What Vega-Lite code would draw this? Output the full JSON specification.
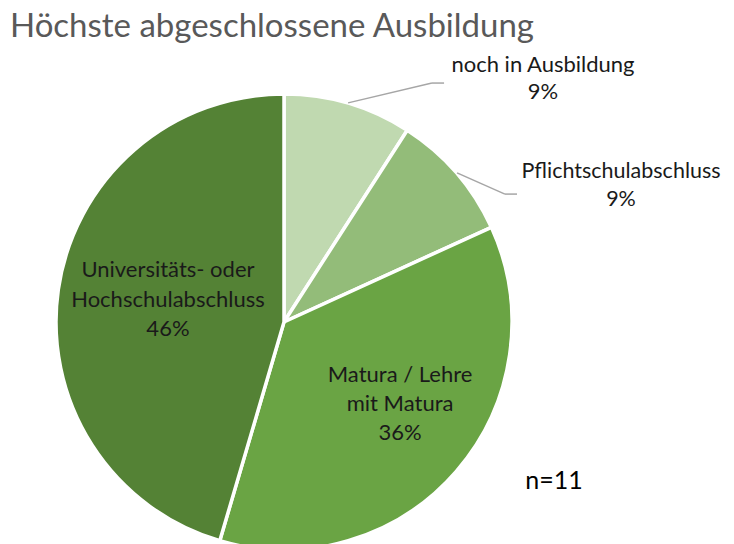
{
  "$schema": "https://vega.github.io/schema/vega-lite/v6.json",
  "autosize": {"type": "none"},
  "padding": {"left": 56, "top": 100, "right": 222, "bottom": 0},
  "width": 456,
  "height": 444,
  "background": "white",
  "config": {"view": {"stroke": null}, "text": {"font": "Lato"}},
  "data": {
    "values": [
      {"cat": "noch in Ausbildung", "n": 1, "label": "noch in Ausbildung\n9%"},
      {"cat": "Pflichtschulabschluss", "n": 1, "label": "Pflichtschulabschluss\n9%"},
      {"cat": "Matura / Lehre mit Matura", "n": 4, "label": "Matura / Lehre\nmit Matura\n36%"},
      {"cat": "Universitäts- oder Hochschulabschluss", "n": 5, "label": "Universitäts- oder\nHochschulabschluss\n46%"}
    ]
  },
  "layer": [
    {
      "mark": {"type": "arc", "outerRadius": 228, "stroke": "white", "strokeWidth": 3.5},
      "encoding": {
        "theta": {"field": "n", "type": "quantitative", "stack": true},
        "order": {"field": "n", "sort": "ascending"},
        "color": {
          "field": "cat",
          "type": "nominal",
          "scale": {
            "domain": ["noch in Ausbildung", "Pflichtschulabschluss", "Matura / Lehre mit Matura", "Universitäts- oder Hochschulabschluss"],
            "range": ["#C0D9B0", "#93BC79", "#6AA444", "#548235"]
          },
          "legend": null
        }
      }
    },
    {
      "data": {"values": [{}]},
      "mark": {"type": "rule", "color": "#A6A6A6", "strokeWidth": 1.5},
      "encoding": {
        "x": {"datum": 0.281, "type": "quantitative", "scale": {"domain": [-1, 1], "nice": false, "zero": false}, "axis": null},
        "y": {"datum": 0.961, "type": "quantitative", "scale": {"domain": [-0.97368, 0.97368], "nice": false, "zero": false}, "axis": null},
        "x2": {"datum": 0.649},
        "y2": {"datum": 1.048}
      }
    },
    {
      "data": {"values": [{}]},
      "mark": {"type": "rule", "color": "#A6A6A6", "strokeWidth": 1.5},
      "encoding": {
        "x": {"datum": 0.649, "type": "quantitative"},
        "y": {"datum": 1.048, "type": "quantitative"},
        "x2": {"datum": 0.702},
        "y2": {"datum": 1.048}
      }
    },
    {
      "data": {"values": [{}]},
      "mark": {"type": "rule", "color": "#A6A6A6", "strokeWidth": 1.5},
      "encoding": {
        "x": {"datum": 0.759, "type": "quantitative"},
        "y": {"datum": 0.654, "type": "quantitative"},
        "x2": {"datum": 0.969},
        "y2": {"datum": 0.561}
      }
    },
    {
      "data": {"values": [{}]},
      "mark": {"type": "rule", "color": "#A6A6A6", "strokeWidth": 1.5},
      "encoding": {
        "x": {"datum": 0.969, "type": "quantitative"},
        "y": {"datum": 0.561, "type": "quantitative"},
        "x2": {"datum": 1.022},
        "y2": {"datum": 0.561}
      }
    },
    {
      "data": {"values": [{"title": "Höchste abgeschlossene Ausbildung"}]},
      "mark": {"type": "text", "align": "left", "baseline": "alphabetic", "fontSize": 33, "fontWeight": "normal", "color": "#595959"},
      "encoding": {
        "x": {"datum": -1.202, "type": "quantitative"},
        "y": {"datum": 1.25, "type": "quantitative"},
        "text": {"field": "title"}
      }
    },
    {
      "transform": [{"filter": "datum.cat === 'noch in Ausbildung'"}],
      "mark": {"type": "text", "align": "center", "baseline": "alphabetic", "fontSize": 22, "lineHeight": 27, "lineBreak": "\n", "color": "#1A1A1A"},
      "encoding": {
        "x": {"datum": 1.136, "type": "quantitative"},
        "y": {"datum": 1.096, "type": "quantitative"},
        "text": {"field": "label"}
      }
    },
    {
      "transform": [{"filter": "datum.cat === 'Pflichtschulabschluss'"}],
      "mark": {"type": "text", "align": "center", "baseline": "alphabetic", "fontSize": 21.5, "lineHeight": 28, "lineBreak": "\n", "color": "#1A1A1A"},
      "encoding": {
        "x": {"datum": 1.478, "type": "quantitative"},
        "y": {"datum": 0.632, "type": "quantitative"},
        "text": {"field": "label"}
      }
    },
    {
      "transform": [{"filter": "datum.cat === 'Universitäts- oder Hochschulabschluss'"}],
      "mark": {"type": "text", "align": "center", "baseline": "alphabetic", "fontSize": 22, "lineHeight": 29.5, "lineBreak": "\n", "color": "#1A1A1A"},
      "encoding": {
        "x": {"datum": -0.509, "type": "quantitative"},
        "y": {"datum": 0.197, "type": "quantitative"},
        "text": {"field": "label"}
      }
    },
    {
      "transform": [{"filter": "datum.cat === 'Matura / Lehre mit Matura'"}],
      "mark": {"type": "text", "align": "center", "baseline": "alphabetic", "fontSize": 22, "lineHeight": 29, "lineBreak": "\n", "color": "#1A1A1A"},
      "encoding": {
        "x": {"datum": 0.509, "type": "quantitative"},
        "y": {"datum": -0.263, "type": "quantitative"},
        "text": {"field": "label"}
      }
    },
    {
      "data": {"values": [{"note": "n=11"}]},
      "mark": {"type": "text", "align": "center", "baseline": "alphabetic", "fontSize": 25, "color": "#000000"},
      "encoding": {
        "x": {"datum": 1.184, "type": "quantitative"},
        "y": {"datum": -0.732, "type": "quantitative"},
        "text": {"field": "note"}
      }
    }
  ]
}
